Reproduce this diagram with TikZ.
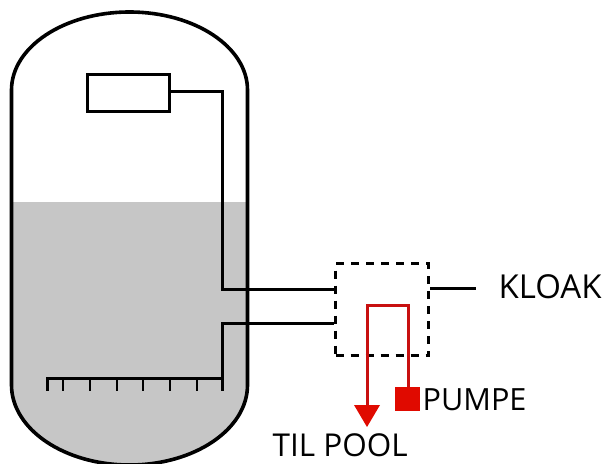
\documentclass[tikz,border=0pt]{standalone}
\usepackage{fontspec}
\setmainfont{Open Sans}
\definecolor{liquid}{HTML}{C6C6C6}
\definecolor{redline}{HTML}{C81010}
\definecolor{redfill}{HTML}{E00A00}
\tikzset{
  blk/.style={line width=3pt,black},
  tank/.style={line width=3.6pt,black},
  redpipe/.style={line width=3pt,redline},
  lab/.style={inner sep=0pt,anchor=base west,text=black},
  box/.style={draw,line width=3pt,inner sep=0pt,minimum width=82pt,minimum height=37pt},
  dashbox/.style={draw,line width=3pt,dash pattern=on 8pt off 7pt,inner sep=0pt,minimum width=93pt,minimum height=92pt},
  pumpbox/.style={fill=redfill,inner sep=0pt,minimum width=25pt,minimum height=24pt}
}
\begin{document}
\begin{tikzpicture}[x=1pt,y=-1pt]
\useasboundingbox (0,0) rectangle (609,463);
% tank
\begin{scope}
\clip (0,202) rectangle (609,470);
\fill[liquid] (12,90) -- (12,385) arc[start angle=180,end angle=360,x radius=118,y radius=-80] -- (248,90) -- cycle;
\end{scope}
\draw[tank] (11.5,385) -- (11.5,90) arc[start angle=180,end angle=0,x radius=118,y radius=-78] -- (247.5,385) arc[start angle=360,end angle=180,x radius=118,y radius=-80] -- cycle;
% nodes
\node[box] (ctrl) at (128.5,92.5) {};
\node[dashbox] (valve) at (382,309.5) {};
\node[pumpbox] (pump) at (407,399) {};
\node[lab,font=\fontsize{33}{35}\selectfont] (kloak) at (498.5,298.5) {KLOAK};
\node[lab,font=\fontsize{30.6}{32}\selectfont] (pumpe) at (422.5,410.5) {PUMPE};
\node[lab,font=\fontsize{31.5}{33}\selectfont] (tilpool) at (272.5,456.5) {TIL POOL};
\coordinate (kl) at (476,288);
\coordinate (h) at (47.5,378);
\coordinate (out) at (367,427);
% pipes
\draw[blk] (ctrl.east |- 0,91) -- (222.5,91) -- (222.5,289) -- (valve.west |- 0,289);
\draw[blk] (valve.west |- 0,323) -- (222.5,323) -- (222.5,378) -- (h);
\draw[blk] (valve.east |- 0,288) -- (kl);
\foreach \x in {47.5,63,90,117,143,170,197,222.5}
  \draw[line width=2.6pt] (\x,377) -- (\x,391);
% red
\draw[redpipe] (pump.north -| 408,0) -- (408,305) -- (367,305) -- (367,406);
\fill[redfill] (354,405) -- (380,405) -- (out) -- cycle;
\end{tikzpicture}
\end{document}
